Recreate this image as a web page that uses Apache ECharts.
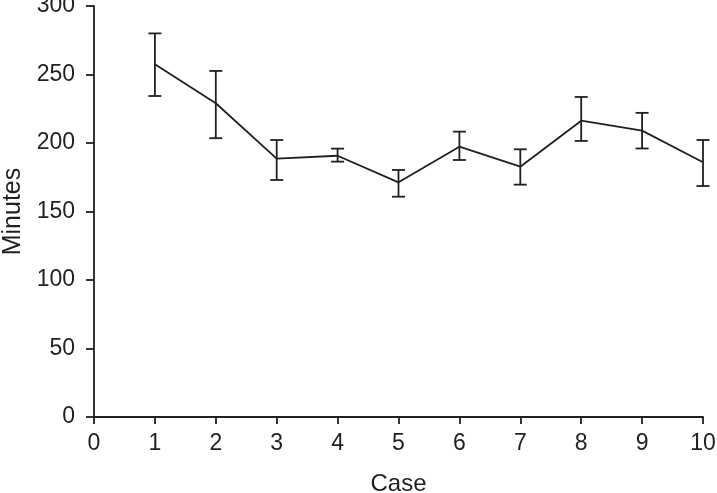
<!DOCTYPE html>
<html>
<head>
<meta charset="utf-8">
<script src="https://cdn.jsdelivr.net/npm/echarts@6/dist/echarts.min.js"></script>
<style>
  html, body { margin: 0; padding: 0; background: #fff; }
  #chart { width: 717px; height: 493px; }
</style>
</head>
<body>
<div id="chart"></div>
<script>
// case number, mean minutes and error bar ends
var cases = [1, 2, 3, 4, 5, 6, 7, 8, 9, 10]
var means = [257.5, 229, 188.6, 190.7, 171.3, 197.3, 182.7, 216.3, 209, 186]
var upper = [280, 252.6, 202.2, 195.9, 180.3, 208.3, 195.4, 233.6, 222, 202.2]
var lower = [234.3, 203.5, 173, 186.4, 160.8, 187.6, 169.6, 201.5, 196, 168.6]

var ink = '#231f20'
var font = 'Liberation Sans, Arial, sans-serif'

var lineData = cases.map(function (c, i) { return [c, means[i]] })
var errData = cases.map(function (c, i) { return [c, lower[i], upper[i]] })

var chart = echarts.init(document.getElementById('chart'))
var option = {
  animation: false,
  grid: { left: 94, right: 14, top: 6, bottom: 76, containLabel: false, outerBoundsMode: 'none' },
  xAxis: {
    type: 'value',
    min: 0,
    max: 10,
    interval: 1,
    name: 'Case',
    nameLocation: 'middle',
    nameGap: 55,
    nameTextStyle: { color: ink, fontSize: 24, fontFamily: font },
    axisLine: { lineStyle: { color: ink, width: 1.8 } },
    axisTick: { show: true, length: 7, lineStyle: { color: ink, width: 1.8 } },
    axisLabel: { color: ink, fontSize: 23, fontFamily: font, margin: 15 },
    splitLine: { show: false }
  },
  yAxis: {
    type: 'value',
    min: 0,
    max: 300,
    interval: 50,
    name: 'Minutes',
    nameLocation: 'middle',
    nameGap: 68,
    nameTextStyle: { color: ink, fontSize: 25, fontFamily: font },
    axisLine: { show: true, lineStyle: { color: ink, width: 1.8 } },
    axisTick: { show: true, length: 8, lineStyle: { color: ink, width: 1.8 } },
    axisLabel: { color: ink, fontSize: 23, fontFamily: font, margin: 19 },
    splitLine: { show: false }
  },
  series: [
    {
      type: 'line',
      data: lineData,
      symbol: 'none',
      lineStyle: { color: ink, width: 1.8 },
      z: 3
    },
    {
      type: 'custom',
      data: errData,
      renderItem: function (params, api) {
        var x = api.value(0)
        var lo = api.coord([x, api.value(1)])
        var hi = api.coord([x, api.value(2)])
        var half = 6.5
        var style = { stroke: ink, lineWidth: 1.8, fill: null }
        return {
          type: 'group',
          children: [
            { type: 'line', shape: { x1: hi[0], y1: hi[1], x2: lo[0], y2: lo[1] }, style: style },
            { type: 'line', shape: { x1: hi[0] - half, y1: hi[1], x2: hi[0] + half, y2: hi[1] }, style: style },
            { type: 'line', shape: { x1: lo[0] - half, y1: lo[1], x2: lo[0] + half, y2: lo[1] }, style: style }
          ]
        }
      },
      z: 4
    }
  ]
}
chart.setOption(option, true)
</script>
</body>
</html>
